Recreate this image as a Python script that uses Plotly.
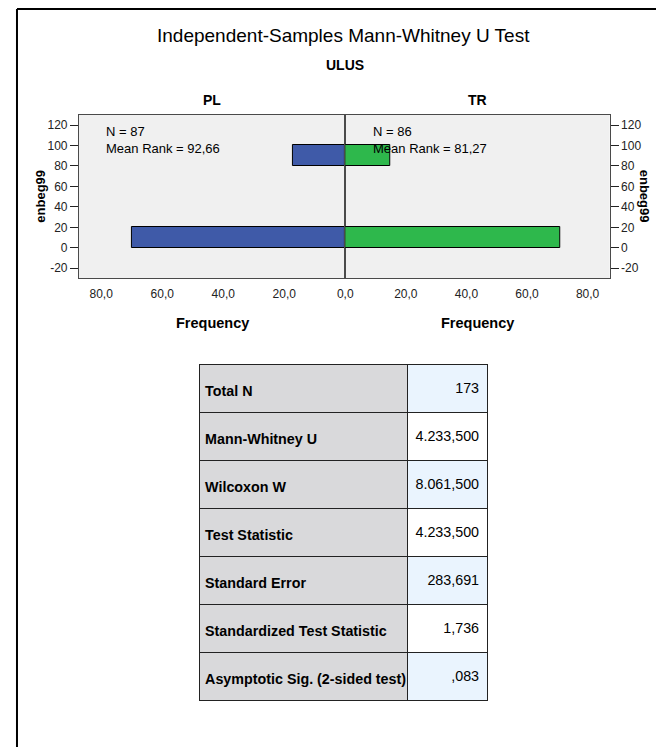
import plotly.graph_objects as go

# ---------------- data ----------------
bin_centers = [10, 90]          # enbeg99 bins (0-20, 80-100)
bin_width = 20
pl_freq = [70, 17]
tr_freq = [71, 15]
pl_n, pl_rank = "87", "92,66"
tr_n, tr_rank = "86", "81,27"
y_ticks = [-20, 0, 20, 40, 60, 80, 100, 120]
x_ticks_left = [80, 60, 40, 20]
x_ticks_right = [0, 20, 40, 60, 80]

table_labels = ["Total N", "Mann-Whitney U", "Wilcoxon W", "Test Statistic",
                "Standard Error", "Standardized Test Statistic",
                "Asymptotic Sig. (2-sided test)"]
table_values = ["173", "4.233,500", "8.061,500", "4.233,500",
                "283,691", "1,736", ",083"]

# ---------------- layout helpers ----------------
OFF = 8                      # default page body margin
W, H = 664 - OFF, 747 - OFF
FONT = "Liberation Sans, Arial, sans-serif"
def px(x):
    return (x - OFF) / W
def py(y):
    return 1 - (y - OFF) / H

BLUE = "#3F5AA8"
GREEN = "#2EB84C"
FRAME = "#4a4a4a"

fig = go.Figure()
fig.add_trace(go.Bar(x=pl_freq, y=bin_centers, width=bin_width, orientation="h",
                     marker=dict(color=BLUE, line=dict(color="black", width=1)),
                     xaxis="x", yaxis="y", showlegend=False, hoverinfo="skip"))
fig.add_trace(go.Bar(x=tr_freq, y=bin_centers, width=bin_width, orientation="h",
                     marker=dict(color=GREEN, line=dict(color="black", width=1)),
                     xaxis="x2", yaxis="y2", showlegend=False, hoverinfo="skip"))

x_left, x_mid, x_right = 71.7, 341.3, 609
y_top, y_bot = 115, 278
xmax = 87.3
yrange = [-29.5, 129.8]

common_x = dict(showline=True, mirror=True, linecolor=FRAME, linewidth=1,
                showgrid=False, zeroline=False, ticks="outside", ticklen=5,
                tickcolor="rgba(0,0,0,0)", tickformat=".1f",
                tickfont=dict(size=12, color="#222", family=FONT), fixedrange=True)
common_y = dict(showline=True, mirror=True, linecolor=FRAME, linewidth=1,
                showgrid=False, zeroline=False, ticks="outside", ticklen=8,
                tickcolor="#222", tickvals=y_ticks, ticktext=[str(v) for v in y_ticks],
                tickfont=dict(size=12, color="#222", family=FONT),
                range=yrange, domain=[py(y_bot), py(y_top)], fixedrange=True)

fig.update_layout(
    width=W, height=H,
    margin=dict(l=0, r=0, t=0, b=0),
    paper_bgcolor="white", plot_bgcolor="#F0F0F0",
    separators=",.",
    bargap=0,
    font=dict(family=FONT, color="black"),
    xaxis=dict(domain=[px(x_left), px(x_mid)], range=[xmax, 0], anchor="y",
               tickvals=x_ticks_left, **common_x),
    xaxis2=dict(domain=[px(x_mid), px(x_right)], range=[0, xmax], anchor="y2",
                tickvals=x_ticks_right, **common_x),
    yaxis=dict(anchor="x", side="left", **common_y),
    yaxis2=dict(anchor="x2", side="right", **common_y),
)

ann = []
def text(x, y, s, size, bold=False, xanchor="center", angle=0, align="center"):
    ann.append(dict(x=px(x), y=py(y), xref="paper", yref="paper",
                    text=("<b>%s</b>" % s) if bold else s, showarrow=False,
                    xanchor=xanchor, yanchor="middle", textangle=angle, align=align,
                    font=dict(size=size, family=FONT, color="black")))

text(340, 35, "Independent-Samples Mann-Whitney U Test", 19)
text(341, 65, "ULUS", 14, bold=True)
text(206, 100, "PL", 14, bold=True)
text(475, 100, "TR", 14, bold=True)
text(207, 323, "Frequency", 14.5, bold=True)
text(475, 323, "Frequency", 14.5, bold=True)
text(33, 196, "enbeg99", 13, bold=True, angle=-90)
text(644, 196, "enbeg99", 13, bold=True, angle=90)
text(97, 140, "N = " + pl_n + "<br>Mean Rank = " + pl_rank, 13, xanchor="left", align="left")
text(367, 140, "N = " + tr_n + "<br>Mean Rank = " + tr_rank, 13, xanchor="left", align="left")
fig.update_layout(annotations=ann)

# outer frame (left and top visible)
fig.add_shape(type="line", xref="paper", yref="paper", x0=px(9), x1=1.0,
              y0=py(9), y1=py(9), line=dict(color="black", width=2))
fig.add_shape(type="line", xref="paper", yref="paper", x0=px(9), x1=px(9),
              y0=py(9), y1=0, line=dict(color="black", width=2))

# ---------------- table ----------------
LABEL_BG = "#D9D9DB"
BLUE_BG = "#EAF4FE"
val_bg = [BLUE_BG if i % 2 == 0 else "white" for i in range(len(table_values))]
row_h = 48
n_rows = len(table_labels)
t_top = 364.7
t_bot = t_top + row_h * n_rows + 3
TFONT = dict(size=14.3, color="black", family=FONT)
NB = "\u00a0"

# cell grid (fills and rules)
fig.add_trace(go.Table(
    domain=dict(x=[px(193.3), px(485.7)], y=[py(t_bot), py(t_top)]),
    columnwidth=[212, 81],
    header=dict(values=["", ""], fill_color=[LABEL_BG, val_bg[0]],
                height=row_h, line=dict(color="#222", width=1), font=TFONT),
    cells=dict(values=[[""] * (n_rows - 1), [""] * (n_rows - 1)],
               fill_color=[[LABEL_BG] * (n_rows - 1), val_bg[1:]],
               height=row_h, line=dict(color="#222", width=1), font=TFONT),
))
# cell texts, moved down so they sit in the middle of each row
dy = 10
lab = ["<b>%s</b>" % s.replace(" ", NB) for s in table_labels]
fig.add_trace(go.Table(
    domain=dict(x=[px(191.3), px(485.7)], y=[py(t_bot + dy), py(t_top + dy)]),
    columnwidth=[214, 80.4],
    header=dict(values=[lab[0], table_values[0]],
                fill_color="rgba(0,0,0,0)", align=["left", "right"],
                font=TFONT, height=row_h, line=dict(color="rgba(0,0,0,0)", width=0)),
    cells=dict(values=[lab[1:], table_values[1:]],
               fill_color="rgba(0,0,0,0)", align=["left", "right"],
               font=TFONT, height=row_h, line=dict(color="rgba(0,0,0,0)", width=0)),
))

fig.write_html("out.html")
